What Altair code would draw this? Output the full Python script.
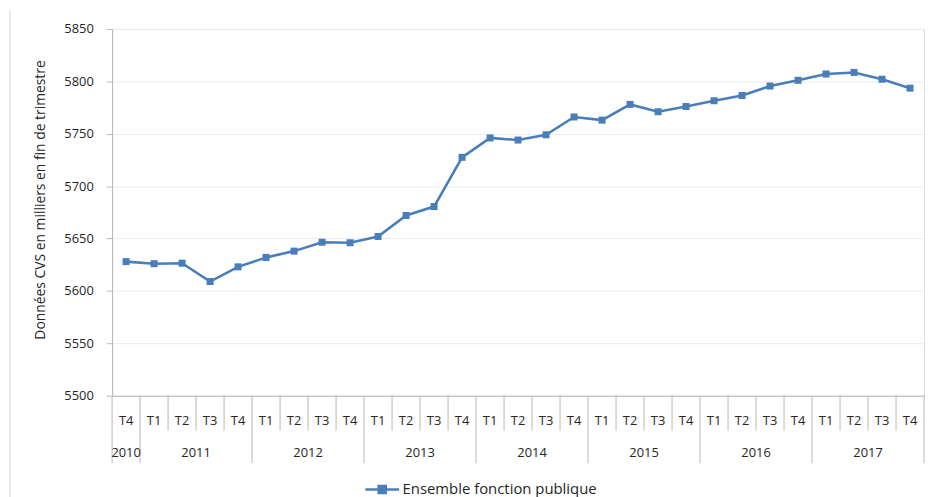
import altair as alt
import pandas as pd

# ---- data ----
quarters = ["T4"] + ["T1", "T2", "T3", "T4"] * 7
values = [5628, 5626, 5626.5, 5609, 5623,
          5632, 5638, 5646.5, 5646,
          5652, 5672, 5680.5, 5727.5,
          5746, 5744, 5749, 5766,
          5763, 5778, 5771, 5776,
          5781.5, 5786.5, 5795.5, 5801,
          5807, 5808.5, 5802, 5793.5]
years = ["2010", "2011", "2012", "2013", "2014", "2015", "2016", "2017"]
quarters_per_year = [1, 4, 4, 4, 4, 4, 4, 4]
serie = "Ensemble fonction publique"
y_ticks = [5500, 5550, 5600, 5650, 5700, 5750, 5800, 5850]
y_title = "Données CVS en milliers en fin de trimestre"

W, H = 819, 370
BLUE = "#4a7ebb"
GRID = "#ececec"
AX = "#b8b8b8"
FONT = "Open Sans"
TXT = "#262626"

n = len(values)
df = pd.DataFrame({"pos": [i + 0.5 for i in range(n)], "q": quarters,
                   "v": values, "serie": [serie] * n})

year_bounds = [0]
for k in quarters_per_year:
    year_bounds.append(year_bounds[-1] + k)
q_bounds = [b for b in range(n + 1) if b not in year_bounds]
qdf = pd.DataFrame({"b": q_bounds})
ybdf = pd.DataFrame({"b": year_bounds})
ylab = pd.DataFrame({"pos": [(year_bounds[i] + year_bounds[i + 1]) / 2 for i in range(len(years))],
                     "year": years})

xs = alt.Scale(domain=[0, n], nice=False, zero=False)
ys = alt.Scale(domain=[5500, 5850], nice=False, zero=False)

legend_path = "M-1,0L1,0M-0.21,-0.21L0.21,-0.21L0.21,0.21L-0.21,0.21Z"

line = alt.Chart(df).mark_line(strokeWidth=2.6).encode(
    x=alt.X("pos:Q", scale=xs,
            axis=alt.Axis(labels=False, ticks=False, grid=False, domainColor=AX, title=None)),
    y=alt.Y("v:Q", scale=ys,
            axis=alt.Axis(values=y_ticks, format="d", title=y_title, grid=True, gridColor=GRID,
                          domainColor=AX, tickColor=AX, tickSize=6, labelPadding=13,
                          labelFont=FONT, labelFontSize=13, labelColor=TXT,
                          titleFont=FONT, titleFontSize=14, titleFontWeight="normal",
                          titleColor=TXT, titlePadding=16, titleY=172)),
    color=alt.Color("serie:N", scale=alt.Scale(range=[BLUE]),
                    legend=alt.Legend(title=None, orient="none", legendX=254, legendY=446,
                                      symbolType=legend_path, symbolSize=1156,
                                      symbolStrokeWidth=2.5, symbolFillColor=BLUE,
                                      symbolStrokeColor=BLUE, labelFont=FONT,
                                      labelFontSize=15, labelColor=TXT, labelOffset=2,
                                      labelLimit=400)),
)

points = alt.Chart(df).mark_point(shape="square", filled=True, size=50, opacity=1,
                                  color=BLUE).encode(
    x=alt.X("pos:Q", scale=xs),
    y=alt.Y("v:Q", scale=ys),
)

q_rules = alt.Chart(qdf).mark_rule(color=AX, strokeWidth=1).encode(
    x=alt.X("b:Q", scale=xs), y=alt.value(H), y2=alt.value(H + 35))
y_rules = alt.Chart(ybdf).mark_rule(color=AX, strokeWidth=1).encode(
    x=alt.X("b:Q", scale=xs), y=alt.value(H), y2=alt.value(H + 68))

q_text = alt.Chart(df).mark_text(font=FONT, fontSize=13, color=TXT, baseline="middle").encode(
    x=alt.X("pos:Q", scale=xs), y=alt.value(H + 26), text="q:N")
y_text = alt.Chart(ylab).mark_text(font=FONT, fontSize=13, color=TXT, baseline="middle").encode(
    x=alt.X("pos:Q", scale=xs), y=alt.value(H + 58), text="year:N")

frame = alt.Chart(pd.DataFrame({"a": [0]})).mark_rule(color="#d4d4d4").encode(
    x=alt.value(-103), y=alt.value(-19), y2=alt.value(H + 110))

chart = alt.layer(frame, q_rules, y_rules, q_text, y_text, line, points).properties(
    width=W, height=H, autosize="none",
    padding={"left": 105, "top": 19, "right": 4, "bottom": 100},
).configure_view(stroke=None).configure(background="white")

chart.save("out.html", embed_options={"renderer": "svg", "actions": False})
